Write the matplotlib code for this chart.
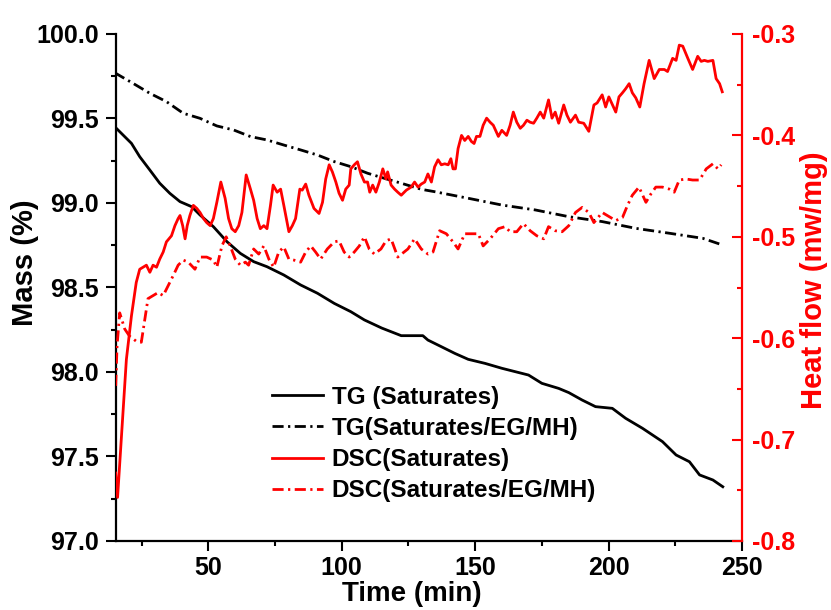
import matplotlib
matplotlib.use("Agg")
import matplotlib.pyplot as plt
from matplotlib.ticker import MultipleLocator, FormatStrFormatter

plt.rcParams['font.family'] = ['Liberation Sans', 'DejaVu Sans']
plt.rcParams['font.weight'] = 'bold'

# ---------------- data ----------------
tg_sat_time = [14.9, 16.8, 21.2, 24.3, 28.1, 31.8, 35.6, 39.4, 43.8, 46.9, 51.9, 57.0, 62.0,
               67.0, 72.0, 78.3, 84.6, 90.9, 97.2, 103.4, 108.5, 115.0, 122.3, 130.4, 132.3,
               137.3, 142.4, 147.4, 153.7, 160.0, 165.0, 170.0, 175.0, 181.3, 185.1, 190.1,
               195.1, 201.4, 206.4, 212.7, 220.2, 225.3, 230.3, 234.1, 239.1, 242.8]
tg_sat_mass = [99.452, 99.422, 99.353, 99.274, 99.195, 99.117, 99.057, 99.008, 98.978, 98.929,
               98.860, 98.771, 98.702, 98.653, 98.623, 98.574, 98.515, 98.466, 98.406, 98.357,
               98.308, 98.260, 98.215, 98.215, 98.189, 98.150, 98.110, 98.075, 98.051, 98.022,
               98.002, 97.982, 97.933, 97.903, 97.878, 97.834, 97.795, 97.785, 97.726, 97.667,
               97.588, 97.509, 97.469, 97.391, 97.361, 97.321]

tg_mh_time = [14.9, 21.8, 28.1, 34.3, 40.6, 46.9, 53.2, 59.5, 65.8, 72.0, 78.3, 84.6, 90.9,
              97.2, 103.4, 109.7, 116.0, 122.3, 129.8, 134.8, 147.4, 160.0, 172.5, 185.1,
              197.6, 210.2, 222.8, 235.3, 242.6]
tg_mh_mass = [99.771, 99.708, 99.649, 99.600, 99.531, 99.501, 99.456, 99.432, 99.393, 99.373,
              99.343, 99.314, 99.284, 99.245, 99.215, 99.176, 99.146, 99.117, 99.081, 99.067,
              99.028, 98.988, 98.959, 98.919, 98.890, 98.850, 98.821, 98.791, 98.752]

dsc_sat_time = [15.3, 16.0, 19.3, 21.2, 23.0, 24.3, 26.8, 28.1, 29.3, 30.6,
                31.8, 33.1, 34.3, 36.2, 37.5, 38.7, 39.4, 40.4, 41.3, 42.1,
                43.1, 44.4, 45.7, 46.9, 48.2, 49.4, 50.7, 51.9, 53.2, 54.7,
                56.3, 57.6, 58.8, 60.1, 61.4, 62.6, 64.2, 65.8, 67.0, 68.3,
                69.5, 70.8, 72.0, 73.3, 74.3, 75.8, 77.1, 78.3, 80.2, 81.5,
                82.7, 84.3, 85.2, 86.5, 87.7, 89.6, 91.5, 92.8, 94.0, 95.3,
                96.5, 97.8, 99.0, 100.3, 101.5, 102.8, 103.4, 104.7, 105.9, 107.2,
                108.5, 109.7, 110.5, 111.6, 112.8, 114.1, 115.4, 116.6, 117.2, 118.5,
                119.8, 121.0,
                122.3, 124.2, 126.0, 127.3, 128.6, 129.8, 131.1, 132.3, 133.6, 134.8,
                136.1, 137.3, 138.6, 139.9, 140.9, 141.7, 142.6, 143.6, 144.9, 146.1,
                147.4, 148.6, 149.6, 150.5, 151.8, 153.0, 154.3, 155.6, 156.8, 158.7,
                160.0, 161.8, 163.1, 164.3, 165.6, 166.9, 168.1, 169.4, 170.6, 171.9,
                173.1, 174.4, 175.7, 177.5, 178.8, 180.0, 181.3, 183.2, 184.4, 185.7,
                187.6, 188.8, 190.7, 192.6, 194.5, 195.7, 197.6, 198.9, 200.1, 202.7,
                203.9, 205.2, 206.4, 207.7, 208.9, 210.2, 211.7, 213.3, 215.2, 217.1,
                219.0, 220.9, 222.1, 224.0, 225.3, 226.5, 227.8, 229.7, 231.5, 233.4,
                234.7, 235.9, 237.2, 239.1, 240.3, 241.6, 242.6]
dsc_sat_heat = [-0.733, -0.757, -0.621, -0.578, -0.545, -0.532, -0.528, -0.535, -0.528, -0.530,
                -0.522, -0.515, -0.505, -0.499, -0.489, -0.482, -0.479, -0.489, -0.502, -0.489,
                -0.479, -0.469, -0.472, -0.476, -0.482, -0.486, -0.489, -0.482, -0.466, -0.446,
                -0.462, -0.482, -0.492, -0.495, -0.489, -0.476, -0.439, -0.453, -0.464, -0.482,
                -0.492, -0.489, -0.492, -0.469, -0.449, -0.456, -0.453, -0.469, -0.495, -0.489,
                -0.482, -0.453, -0.454, -0.448, -0.459, -0.472, -0.477, -0.466, -0.443, -0.429,
                -0.436, -0.446, -0.457, -0.464, -0.453, -0.449, -0.433, -0.429, -0.426, -0.438,
                -0.446, -0.446, -0.456, -0.449, -0.456, -0.446, -0.433, -0.443, -0.436, -0.449,
                -0.453, -0.456,
                -0.459, -0.454, -0.451, -0.446, -0.451, -0.448, -0.446, -0.438, -0.446, -0.431,
                -0.424, -0.429, -0.428, -0.429, -0.423, -0.433, -0.433, -0.413, -0.400, -0.405,
                -0.401, -0.406, -0.408, -0.401, -0.401, -0.390, -0.383, -0.387, -0.390, -0.401,
                -0.395, -0.400, -0.390, -0.377, -0.387, -0.393, -0.390, -0.385, -0.387, -0.388,
                -0.383, -0.377, -0.383, -0.365, -0.383, -0.377, -0.388, -0.370, -0.380, -0.387,
                -0.380, -0.387, -0.388, -0.396, -0.370, -0.368, -0.360, -0.372, -0.362, -0.377,
                -0.362, -0.358, -0.354, -0.349, -0.358, -0.363, -0.372, -0.349, -0.326, -0.344,
                -0.335, -0.335, -0.337, -0.324, -0.326, -0.311, -0.312, -0.324, -0.335, -0.322,
                -0.327, -0.326, -0.327, -0.326, -0.344, -0.349, -0.357]

dsc_mh_time = [15.3, 15.8, 16.8, 18.7, 20.5, 23.0, 24.9,
               27.4, 29.3, 31.2, 33.1, 35.0, 36.9, 38.7, 40.6, 42.5, 45.0,
               46.9, 49.4, 51.9, 53.2, 55.1, 56.7, 58.2, 60.1, 62.0, 63.9,
               65.1, 67.0, 68.9, 70.8, 72.7, 74.5, 76.4, 78.3, 80.2, 82.1,
               84.6, 86.5, 88.4, 90.2, 92.1, 94.6, 97.2, 99.0, 100.9, 102.8,
               104.7, 106.6, 108.5, 110.3, 112.2, 114.7, 116.6, 118.5, 121.0,
               124.8, 127.3, 129.8, 132.3, 134.2, 136.7, 139.2, 141.7, 143.6, 146.1,
               148.6, 151.2, 153.0, 155.6, 158.7, 161.2, 163.1, 165.6, 168.1, 170.6,
               173.1, 175.7, 177.5, 180.0, 182.6, 185.1, 187.6, 190.1, 192.6, 194.5,
               197.6, 199.5, 202.7, 205.2, 207.1, 208.9, 211.4, 214.0, 215.8, 217.7,
               220.2, 222.8, 224.6, 226.5, 229.0, 231.5, 234.1, 236.6, 239.1, 241.0,
               242.2]
dsc_mh_heat = [-0.647, -0.608, -0.575, -0.591, -0.598, -0.603, -0.604,
               -0.561, -0.558, -0.555, -0.558, -0.548, -0.538, -0.528, -0.523, -0.525, -0.532,
               -0.520, -0.520, -0.523, -0.530, -0.509, -0.500, -0.509, -0.522, -0.528, -0.525,
               -0.528, -0.512, -0.517, -0.509, -0.522, -0.530, -0.515, -0.510, -0.522, -0.523,
               -0.525, -0.515, -0.509, -0.515, -0.522, -0.512, -0.505, -0.504, -0.515, -0.520,
               -0.515, -0.509, -0.500, -0.512, -0.517, -0.512, -0.504, -0.502, -0.520,
               -0.512, -0.502, -0.512, -0.517, -0.515, -0.494, -0.497, -0.505, -0.512, -0.497,
               -0.497, -0.497, -0.509, -0.502, -0.492, -0.490, -0.495, -0.495, -0.487, -0.494,
               -0.499, -0.502, -0.490, -0.494, -0.495, -0.489, -0.476, -0.471, -0.476, -0.486,
               -0.476, -0.479, -0.484, -0.481, -0.469, -0.459, -0.451, -0.466, -0.458, -0.451,
               -0.451, -0.453, -0.456, -0.444, -0.443, -0.444, -0.444, -0.433, -0.428, -0.433,
               -0.429]

labels = ["TG (Saturates)", "TG(Saturates/EG/MH)", "DSC(Saturates)", "DSC(Saturates/EG/MH)"]
RED = "#ff0000"

# ---------------- figure ----------------
fig = plt.figure(figsize=(8.31, 6.10), dpi=100)
ax = fig.add_axes([115.7 / 831, 1 - 541 / 610, (742 - 115.7) / 831, (541 - 34) / 610])
ax2 = ax.twinx()

LW = 2.0
dashdot = (0, (4, 1.6, 0.8, 1.6))
l1, = ax.plot(tg_sat_time, tg_sat_mass, color='black', lw=LW)
l2, = ax.plot(tg_mh_time, tg_mh_mass, color='black', lw=LW, linestyle=dashdot)
l3, = ax2.plot(dsc_sat_time, dsc_sat_heat, color=RED, lw=LW)
l4, = ax2.plot(dsc_mh_time, dsc_mh_heat, color=RED, lw=LW, linestyle=dashdot)

ax.set_xlim(15.3, 250)
ax.set_ylim(97.0, 100.0)
ax2.set_ylim(-0.8, -0.3)

ax.xaxis.set_major_locator(MultipleLocator(50))
ax.xaxis.set_minor_locator(MultipleLocator(25))
ax.yaxis.set_major_locator(MultipleLocator(0.5))
ax.yaxis.set_minor_locator(MultipleLocator(0.25))
ax2.yaxis.set_major_locator(MultipleLocator(0.1))
ax2.yaxis.set_minor_locator(MultipleLocator(0.05))
ax.yaxis.set_major_formatter(FormatStrFormatter('%.1f'))
ax2.yaxis.set_major_formatter(FormatStrFormatter('%.1f'))

for s in ['top', 'right']:
    ax.spines[s].set_visible(False)
for s in ['top', 'left', 'bottom']:
    ax2.spines[s].set_visible(False)
for s in ['left', 'bottom']:
    ax.spines[s].set_linewidth(1.6)
ax2.spines['right'].set_linewidth(1.6)
ax2.spines['right'].set_color(RED)

ax.tick_params(axis='x', which='major', direction='out', length=7, width=1.5,
               labelsize=18, pad=4)
ax.tick_params(axis='y', which='major', direction='out', length=7, width=1.5,
               labelsize=18, pad=5)
ax.tick_params(axis='both', which='minor', direction='out', length=3.5, width=1.5)
ax2.tick_params(axis='y', which='major', direction='in', length=7, width=1.5,
                colors=RED, labelsize=18, pad=7)
ax2.tick_params(axis='y', which='minor', direction='in', length=3.5, width=1.5, colors=RED)
for t in ax.get_xticklabels() + ax.get_yticklabels() + ax2.get_yticklabels():
    t.set_fontweight('bold')

ax.set_xlabel("Time (min)", fontsize=20, fontweight='bold')
ax.set_ylabel("Mass (%)", fontsize=21, fontweight='bold')
ax2.set_ylabel("Heat flow (mw/mg)", fontsize=21, fontweight='bold', color=RED)
ax.xaxis.set_label_coords((412 - 115.7) / 626.3, (541 - 581) / 507)
ax.yaxis.set_label_coords((39 - 115.7) / 626.3, (541 - 263) / 507)
ax2.yaxis.set_label_coords((800 - 115.7) / 626.3, (541 - 280) / 507)

leg = ax2.legend([l1, l2, l3, l4], labels, loc='center left',
                 bbox_to_anchor=(272 / 831, 1 - 444 / 610), bbox_transform=fig.transFigure,
                 frameon=False, fontsize=17.5, handlelength=2.1, handletextpad=0.35,
                 labelspacing=0.33, borderpad=0, borderaxespad=0)
for t in leg.get_texts():
    t.set_fontweight('bold')

fig.savefig("out.png", dpi=100)
